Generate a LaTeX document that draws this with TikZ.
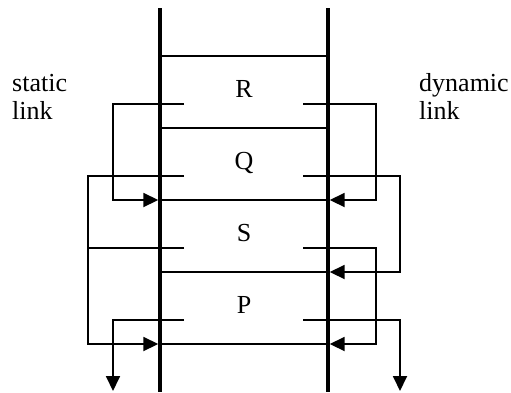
\documentclass[tikz,border=0pt]{standalone}
\usepackage{fontspec}
\setmainfont{Liberation Serif}
\usetikzlibrary{arrows.meta,positioning,calc}

\tikzset{
  stack/.style={line width=3.4pt},
  frm/.style={line width=1.8pt},
  lnk/.style={line width=1.8pt, -{Triangle[length=15pt,width=14pt]}},
  lbl/.style={font=\fontsize{26}{28}\selectfont, inner sep=0pt},
}

\begin{document}
\begin{tikzpicture}[x=1pt,y=-1pt]
\useasboundingbox (0,0) rectangle (511,392);
% stack walls
\coordinate (wl-top) at (160,8);
\coordinate (wl-bot) at (160,392);
\coordinate (wr-top) at (328,8);
\coordinate (wr-bot) at (328,392);
\draw[stack] (wl-top) -- (wl-bot);
\draw[stack] (wr-top) -- (wr-bot);
% frame borders
\draw[frm] (160,56) -- (328,56);
\draw[frm] (160,128) -- (328,128);
\draw[frm] (160,200) -- (328,200);
\draw[frm] (160,272) -- (328,272);
\draw[frm] (160,344) -- (328,344);
% frame names
\node[lbl, anchor=base] (R) at (244,97) {R};
\node[lbl, anchor=base] (Q) at (244,169) {Q};
\node[lbl, anchor=base] (S) at (244,241) {S};
\node[lbl, anchor=base] (P) at (244,313) {P};
% captions
\node[lbl, anchor=base west] (static) at (12,91) {static};
\node[lbl, anchor=base west, yshift=-28pt] (slink) at (static.base west) {link};
\node[lbl, anchor=base west] (dynamic) at (419,91) {dynamic};
\node[lbl, anchor=base west, yshift=-28pt] (dlink) at (dynamic.base west) {link};
% link fields and frame tops
\coordinate (R-sl) at (184,104);
\coordinate (Q-sl) at (184,176);
\coordinate (S-sl) at (184,248);
\coordinate (P-sl) at (184,320);
\coordinate (R-dl) at (303,104);
\coordinate (Q-dl) at (303,176);
\coordinate (S-dl) at (303,248);
\coordinate (P-dl) at (303,320);
\coordinate (S-tl) at (158.3,200);
\coordinate (P-bl) at (158.3,344);
\coordinate (S-tr) at (329.7,200);
\coordinate (S-br) at (329.7,272);
\coordinate (P-br) at (329.7,344);
\coordinate (s-out) at (113,391);
\coordinate (d-out) at (400,391);
% static links
\draw[lnk] (R-sl) -- +(-71,0) |- (S-tl);
\draw[lnk] (Q-sl) -- +(-96,0) |- (P-bl);
\draw[frm] (S-sl) -- +(-96,0);
\draw[lnk] (P-sl) -| (s-out);
% dynamic links
\draw[lnk] (R-dl) -- +(73,0) |- (S-tr);
\draw[lnk] (Q-dl) -- +(97,0) |- (S-br);
\draw[lnk] (S-dl) -- +(73,0) |- (P-br);
\draw[lnk] (P-dl) -| (d-out);
\end{tikzpicture}
\end{document}
